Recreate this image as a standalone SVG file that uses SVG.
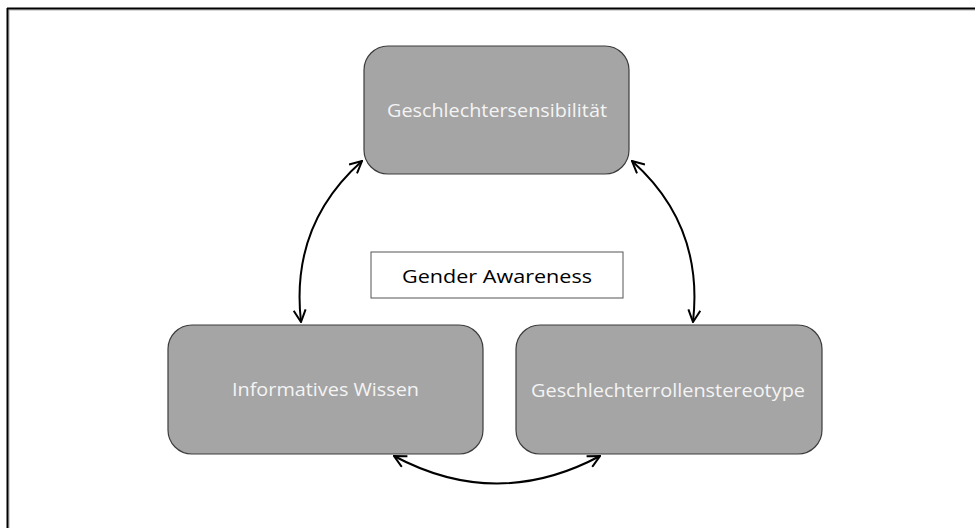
<svg xmlns="http://www.w3.org/2000/svg" width="975" height="528" viewBox="0 0 975 528">
<defs>
<style>
.node rect.box{fill:#a5a5a5;stroke:#3c3c3c;stroke-width:1.2}
.node text{font-family:"Open Sans","Noto Sans",sans-serif;font-size:18.5px;fill:#f4f4f4;text-anchor:middle}
.conn path{fill:none;stroke:#000;stroke-width:2}
.label text{font-family:"Open Sans","Noto Sans",sans-serif;font-size:19px;fill:#000;text-anchor:middle}
</style>
<marker id="ah" viewBox="0 0 14 14" refX="13" refY="7" markerWidth="14" markerHeight="14" markerUnits="userSpaceOnUse" orient="auto-start-reverse">
<path d="M1,1 L13,7 L1,13" fill="none" stroke="#000" stroke-width="2"/>
</marker>
</defs>
<rect width="975" height="528" fill="#fff"/>
<g id="frame">
<line x1="9" y1="10" x2="975" y2="10" stroke="#b0b0b0" stroke-width="1"/>
<line x1="9" y1="10" x2="9" y2="528" stroke="#b0b0b0" stroke-width="1"/>
<line x1="7" y1="8.5" x2="975" y2="8.5" stroke="#000" stroke-width="2"/>
<line x1="7.5" y1="8" x2="7.5" y2="528" stroke="#000" stroke-width="2"/>
</g>
<g id="connectors" class="conn">
<path d="M362,161 Q290,225 301,322" marker-start="url(#ah)" marker-end="url(#ah)"/>
<path d="M632,161 Q704,225 693,322" marker-start="url(#ah)" marker-end="url(#ah)"/>
<path d="M394,456 Q497,511 600,456" marker-start="url(#ah)" marker-end="url(#ah)"/>
</g>
<g id="node-sensibilitaet" class="node">
<rect class="box" x="364" y="46" width="265" height="128" rx="24"/>
<text x="497" y="117" textLength="220" lengthAdjust="spacingAndGlyphs">Geschlechtersensibilität</text>
</g>
<g id="node-wissen" class="node">
<rect class="box" x="168" y="325" width="315" height="129" rx="24"/>
<text x="325.5" y="396" textLength="187" lengthAdjust="spacingAndGlyphs">Informatives Wissen</text>
</g>
<g id="node-stereotype" class="node">
<rect class="box" x="516" y="325" width="306" height="129" rx="24"/>
<text x="668" y="397" textLength="274" lengthAdjust="spacingAndGlyphs">Geschlechterrollenstereotype</text>
</g>
<g id="node-gender-awareness" class="label">
<rect x="371" y="252" width="252" height="46" fill="#fff" stroke="#555" stroke-width="1"/>
<text x="497" y="283" textLength="190" lengthAdjust="spacingAndGlyphs">Gender Awareness</text>
</g>
</svg>
